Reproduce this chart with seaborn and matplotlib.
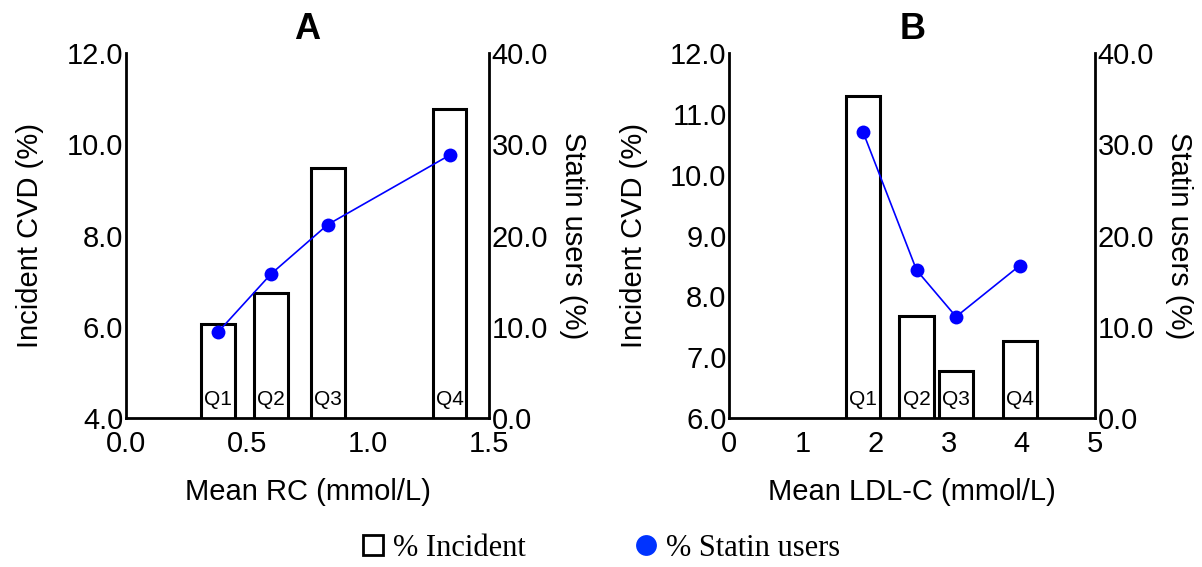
import numpy as np
import pandas as pd
import matplotlib
matplotlib.use("Agg")
import matplotlib.pyplot as plt
from matplotlib.lines import Line2D
import seaborn as sns

# ---------------- data ----------------
quartiles = ["Q1", "Q2", "Q3", "Q4"]

rc_mean = [0.38, 0.60, 0.834, 1.337]
rc_incident = [6.05, 6.75, 9.48, 10.77]
rc_statin = [9.4, 15.8, 21.2, 28.8]

ldl_mean = [1.83, 2.56, 3.10, 3.97]
ldl_incident = [11.30, 7.68, 6.78, 7.27]
ldl_statin = [31.3, 16.2, 11.1, 16.7]

rc_xticks = [0.0, 0.5, 1.0, 1.5]
rc_yticks = [4.0, 6.0, 8.0, 10.0, 12.0]
ldl_xticks = [0, 1, 2, 3, 4, 5]
ldl_yticks = [6.0, 7.0, 8.0, 9.0, 10.0, 11.0, 12.0]
statin_ticks = [0.0, 10.0, 20.0, 30.0, 40.0]

# ---------------- style ----------------
sns.set_style("white")
plt.rcParams["font.family"] = ["Liberation Sans", "DejaVu Sans"]
plt.rcParams["text.color"] = "black"
plt.rcParams["axes.labelcolor"] = "black"
plt.rcParams["xtick.color"] = "black"
plt.rcParams["ytick.color"] = "black"

fig = plt.figure(figsize=(12.02, 5.67), dpi=100)

SP_LW = 2.0
TICK_FS = 21
LABEL_FS = 21


def panel(rect, xs, inc, stat, xticks, yticks, xfmt, xlim, ylim, bar_w, xlabel, title):
    ax = fig.add_axes(rect)
    df = pd.DataFrame({"x": xs, "inc": inc, "q": quartiles})
    min_diff = np.min(np.diff(sorted(xs)))
    sns.barplot(data=df, x="x", y="inc", native_scale=True, width=bar_w / min_diff,
                color="white", edgecolor="black", linewidth=2.2, saturation=1,
                errorbar=None, ax=ax)
    ax.set_xlim(*xlim)
    ax.set_ylim(*ylim)
    ax.set_xticks(xticks)
    ax.set_xticklabels([xfmt.format(v) for v in xticks])
    ax.set_yticks(yticks)
    ax.set_yticklabels(["{:.1f}".format(v) for v in yticks])
    ax.tick_params(axis="both", length=0, labelsize=TICK_FS, colors="black")
    ax.tick_params(axis="x", pad=9)
    ax.tick_params(axis="y", pad=2)
    for s in ["top", "right"]:
        ax.spines[s].set_visible(False)
    for s in ["left", "bottom"]:
        ax.spines[s].set_linewidth(SP_LW)
        ax.spines[s].set_color("black")
    ax.set_xlabel(xlabel, fontsize=LABEL_FS, labelpad=14, color="black")
    ax.set_ylabel("Incident CVD (%)", fontsize=LABEL_FS, labelpad=16, color="black")
    ax.set_title(title, fontsize=26, fontweight="bold", pad=10, color="black")
    for x, q in zip(xs, quartiles):
        ax.text(x, 0.025, q, transform=ax.get_xaxis_transform(), ha="center",
                va="bottom", fontsize=15, color="black")

    ax2 = ax.twinx()
    sns.lineplot(x=xs, y=stat, ax=ax2, color="blue", marker="o", markersize=10,
                 markeredgewidth=0, linewidth=1.2)
    ax2.set_ylim(0, 40)
    ax2.set_yticks(statin_ticks)
    ax2.set_yticklabels(["{:.1f}".format(v) for v in statin_ticks])
    ax2.tick_params(axis="y", length=0, labelsize=TICK_FS, pad=2, colors="black")
    for s in ["top", "left", "bottom"]:
        ax2.spines[s].set_visible(False)
    ax2.spines["right"].set_linewidth(SP_LW)
    ax2.spines["right"].set_color("black")
    ax2.set_ylabel("Statin users (%)", fontsize=LABEL_FS, rotation=270, labelpad=28,
                   color="black")
    return ax, ax2


panel([0.1048, 0.2628, 0.302, 0.6437], rc_mean, rc_incident, rc_statin,
      rc_xticks, rc_yticks, "{:.1f}", (0, 1.5), (4, 12), 0.14, "Mean RC (mmol/L)", "A")
panel([0.6068, 0.2628, 0.3042, 0.6437], ldl_mean, ldl_incident, ldl_statin,
      ldl_xticks, ldl_yticks, "{:d}", (0, 5), (6, 12), 0.47, "Mean LDL-C (mmol/L)", "B")

handles = [
    Line2D([], [], linestyle="none", marker="s", markersize=14,
           markerfacecolor="white", markeredgecolor="black", markeredgewidth=2),
    Line2D([], [], linestyle="none", marker="o", markersize=15,
           markerfacecolor="#0033ff", markeredgewidth=0),
]
fig.legend(handles, ["% Incident", "% Statin users"], loc="center",
           bbox_to_anchor=(0.5, 0.033), ncol=2, frameon=False,
           prop={"family": "Liberation Serif", "size": 22},
           handlelength=0.7, handletextpad=0.3, columnspacing=3.6)

fig.savefig("out.png", dpi=100)
